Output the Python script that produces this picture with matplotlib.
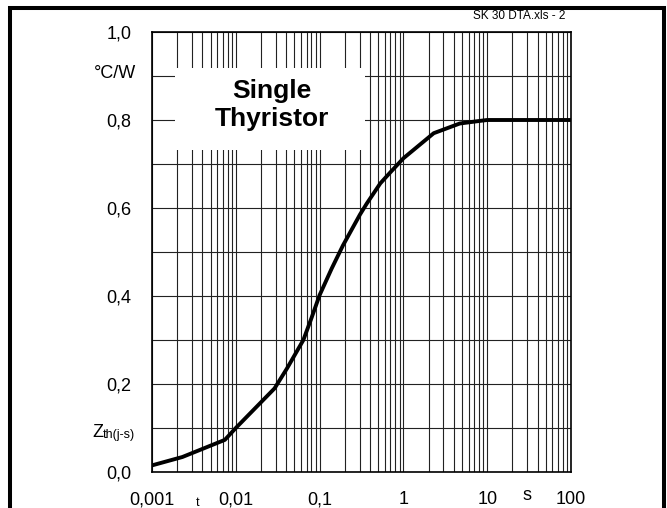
import matplotlib
matplotlib.use("Agg")
import matplotlib.pyplot as plt
from matplotlib.patches import Rectangle
from matplotlib.ticker import FixedLocator, LogLocator, NullFormatter

plt.rcParams['font.family'] = ['Liberation Sans', 'DejaVu Sans']

# transient thermal impedance
t_s = [0.001, 0.0023, 0.0074, 0.01, 0.029, 0.041, 0.064, 0.08, 0.1,
       0.139, 0.19, 0.303, 0.365, 0.53, 0.69, 1.0, 2.3, 4.7, 8.2, 10.0, 100.0]
zth = [0.015, 0.034, 0.073, 0.10, 0.19, 0.236, 0.30, 0.35, 0.402,
       0.462, 0.515, 0.585, 0.61, 0.656, 0.68, 0.713, 0.77, 0.792, 0.798,
       0.80, 0.80]

x_ticks = [0.001, 0.01, 0.1, 1, 10, 100]
x_labels = ['0,001', '0,01', '0,1', '1', '10', '100']
y_ticks = [0.0, 0.2, 0.4, 0.6, 0.8, 1.0]
y_labels = ['0,0', '0,2', '0,4', '0,6', '0,8', '1,0']


def main():
    fig = plt.figure(figsize=(6.67, 5.08), dpi=100)
    ax = fig.add_axes([0.2279, 0.0709, 0.6282, 0.8661])

    ax.plot(t_s, zth, color='black', lw=2.8, zorder=3,
            solid_capstyle='butt', solid_joinstyle='round')

    ax.set_xscale('log')
    ax.set_xlim(0.001, 100)
    ax.set_ylim(0, 1.0)
    ax.set_xticks(x_ticks)
    ax.set_xticklabels(x_labels)
    ax.xaxis.set_minor_locator(LogLocator(base=10, subs=range(2, 10)))
    ax.xaxis.set_minor_formatter(NullFormatter())
    ax.set_yticks(y_ticks)
    ax.set_yticklabels(y_labels)
    ax.yaxis.set_minor_locator(FixedLocator([0.1, 0.3, 0.5, 0.7, 0.9]))
    ax.tick_params(which='both', length=0, labelsize=13)
    ax.tick_params(axis='x', pad=14)
    ax.tick_params(axis='y', pad=15)

    ax.set_axisbelow(True)
    ax.grid(which='both', color='#222222', lw=0.8)
    for sp in ax.spines.values():
        sp.set_linewidth(1.2)

    # white label box over the grid
    ax.add_patch(Rectangle((0.00188, 0.732), 0.348 - 0.00188, 0.918 - 0.732,
                           facecolor='white', edgecolor='none', zorder=2))
    ax.text(10 ** -1.57, 0.835, 'Single\nThyristor', ha='center', va='center',
            fontsize=19, fontweight='bold', linespacing=1.2, zorder=4)

    fig.text(136 / 667, 1 - 73 / 508, '°C/W', ha='right', va='center', fontsize=13)
    fig.text(92 / 667, 1 - 437 / 508, 'Z', ha='left', va='baseline', fontsize=13)
    fig.text(103 / 667, 1 - 438 / 508, 'th(j-s)', ha='left', va='baseline', fontsize=9)
    fig.text(198 / 667, 1 - 503 / 508, 't', ha='center', va='center', fontsize=9)
    fig.text(527 / 667, 1 - 495 / 508, 's', ha='center', va='center', fontsize=13)
    fig.text(565 / 667, 1 - 16 / 508, 'SK 30 DTA.xls - 2', ha='right', va='center',
             fontsize=8.5)

    # outer frame
    fig.patches.append(Rectangle((10 / 667, -0.05), 654 / 667, 1.05 - 8 / 508,
                                 transform=fig.transFigure, fill=False,
                                 edgecolor='black', lw=2.9))

    fig.savefig('out.png', dpi=100)
    plt.close(fig)


if __name__ == "__main__":
    main()
